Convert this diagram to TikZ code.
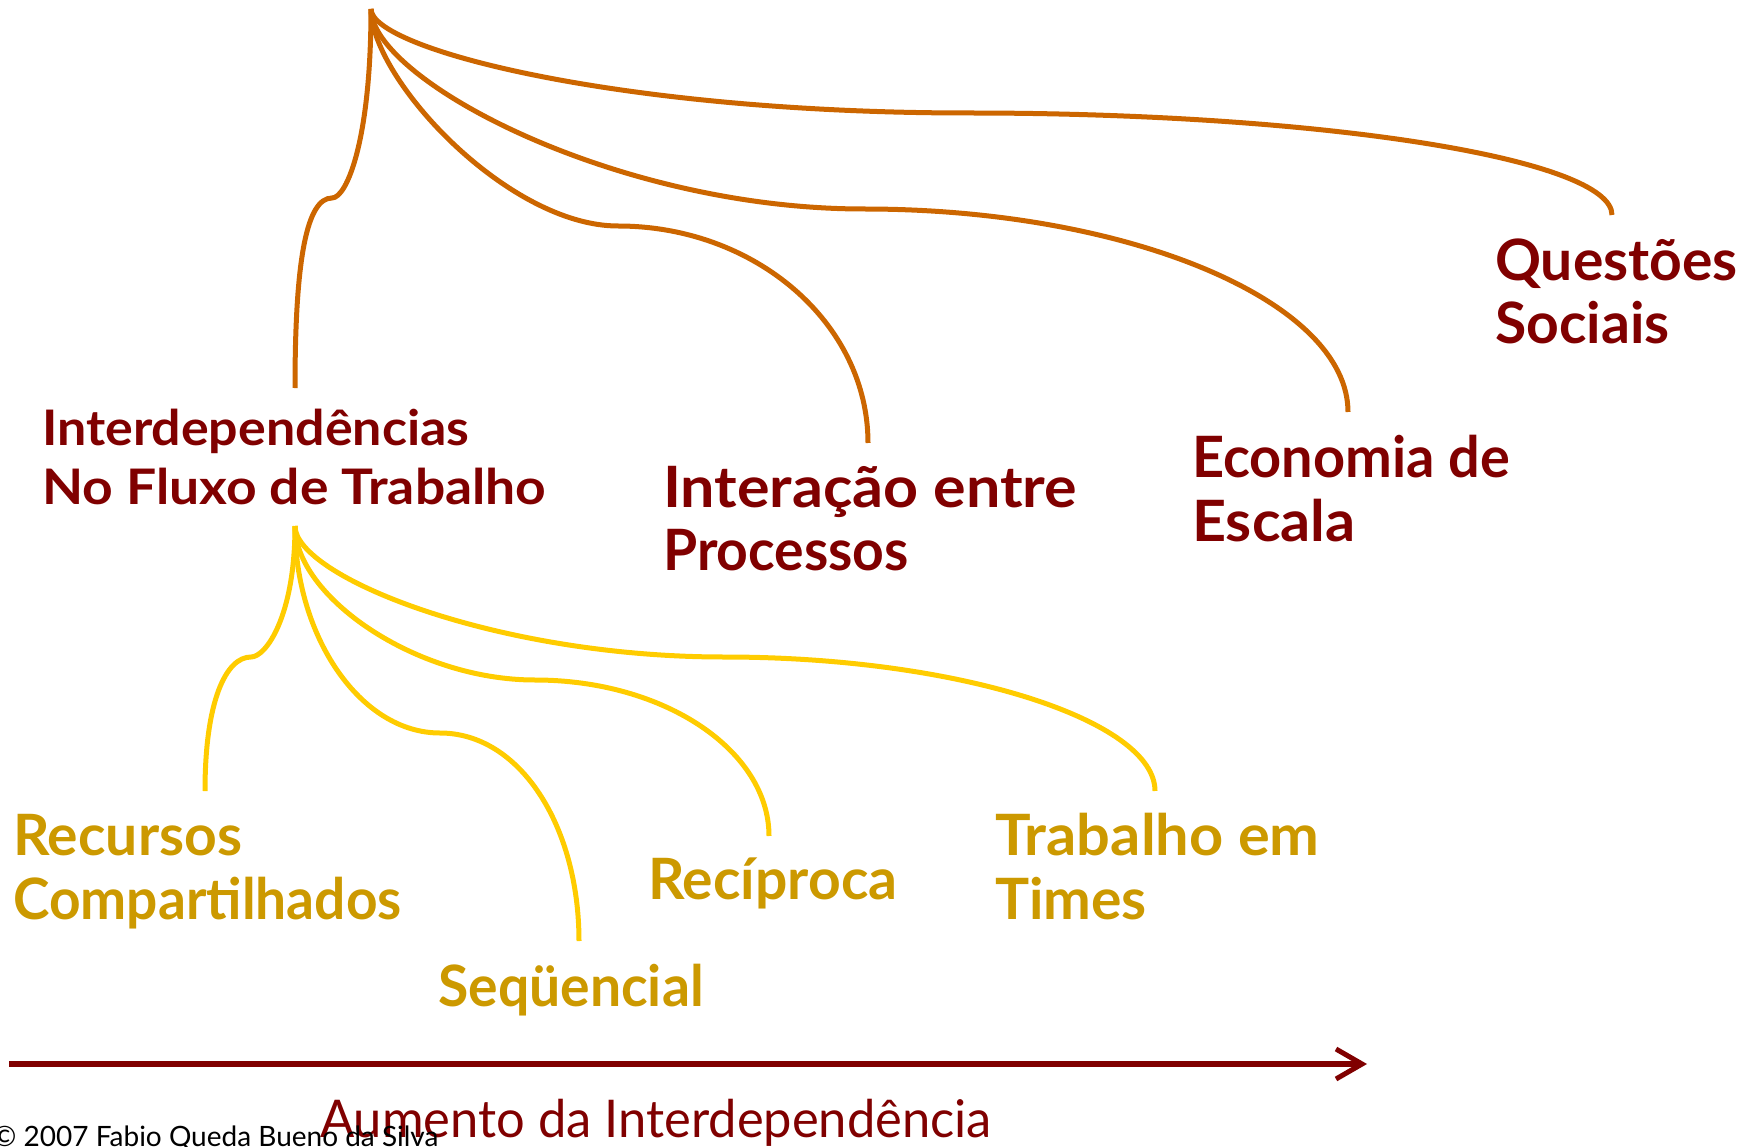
\documentclass[tikz,border=0pt]{standalone}
\usepackage{fontspec}
\setmainfont{Lato}
\usetikzlibrary{arrows.meta}
\definecolor{brorange}{HTML}{CC6600}
\definecolor{dkred}{HTML}{800000}
\definecolor{brgold}{HTML}{FFCC00}
\definecolor{txgold}{HTML}{CC9900}
\newcommand{\hs}[2]{\scalebox{#1}[1]{#2}}
\begin{document}
\begin{tikzpicture}[x=1pt,y=-1pt,
  obr/.style={draw=brorange, line width=5pt},
  ybr/.style={draw=brgold, line width=5pt},
  redlbl/.style={text=dkred, font=\bfseries\fontsize{57}{64}\selectfont, inner sep=0pt, anchor=base west},
  redsmall/.style={text=dkred, font=\bfseries\fontsize{49}{58}\selectfont, inner sep=0pt, anchor=base west},
  goldlbl/.style={text=txgold, font=\bfseries\fontsize{57}{64}\selectfont, inner sep=0pt, anchor=base west},
  axislbl/.style={text=dkred, font=\fontsize{52}{60}\selectfont, inner sep=0pt, anchor=base west},
  copylbl/.style={text=black, font=\fontsize{28}{32}\selectfont, inner sep=0pt, anchor=base west},
  axisarrow/.style={draw=dkred, line width=6pt, -{Straight Barb[length=26pt,width=30pt,line width=5pt]}}]
\useasboundingbox (0,0) rectangle (1747,1147);
% labels
\node[redsmall] (intA) at (42,445) {\hs{1.06}{Interdependências}};
\node[redsmall] (intB) at (42,504) {\hs{1.09}{No Fluxo de Trabalho}};
\node[redlbl] (procA) at (663,507) {\hs{1.07}{Interação entre}};
\node[redlbl] (procB) at (663,570) {\hs{0.97}{Processos}};
\node[redlbl] (ecoA) at (1192,477) {\hs{0.98}{Economia de}};
\node[redlbl] (ecoB) at (1192,541) {\hs{1.04}{Escala}};
\node[redlbl] (socA) at (1495,281) {Questões};
\node[redlbl] (socB) at (1495,343) {Sociais};
\node[goldlbl] (recA) at (13,855) {Recursos};
\node[goldlbl] (recB) at (13,919) {\hs{0.966}{Compartilhados}};
\node[goldlbl] (seq) at (438,1006) {\hs{0.97}{Seqüencial}};
\node[goldlbl] (reci) at (648,899) {Recíproca};
\node[goldlbl] (timA) at (995,855) {\hs{1.044}{Trabalho em}};
\node[goldlbl] (timB) at (995,919) {Times};
\node[axislbl] (aum) at (320,1137) {\hs{0.974}{Aumento da Interdependência}};
\node[copylbl] (copy) at (-7,1146) {© 2007 Fabio Queda Bueno da Silva};
% connector points
\coordinate (oroot) at (371,9);
\coordinate (o1k) at (332,198); \coordinate (o1e) at (295,388);
\coordinate (o2k) at (618,226); \coordinate (o2e) at (868,443);
\coordinate (o3k) at (864,209); \coordinate (o3e) at (1348,412);
\coordinate (o4k) at (969,113); \coordinate (o4e) at (1612,215);
\coordinate (yroot) at (295,526);
\coordinate (y1k) at (251,657); \coordinate (y1e) at (205,791);
\coordinate (y2k) at (440,733); \coordinate (y2e) at (579,941);
\coordinate (y3k) at (535,680); \coordinate (y3e) at (769,836);
\coordinate (y4k) at (724,657); \coordinate (y4e) at (1155,791);
\coordinate (arS) at (9,1064); \coordinate (arE) at (1367,1064);
% orange branches
\draw[obr] (oroot) .. controls +(0,130) and +(15,0) .. (o1k) .. controls +(-25,0) and +(0,-130) .. (o1e);
\draw[obr] (oroot) .. controls +(0,70) and +(-110,0) .. (o2k) .. controls +(137,0) and +(0,-120) .. (o2e);
\draw[obr] (oroot) .. controls +(0,70) and +(-250,0) .. (o3k) .. controls +(266,0) and +(0,-110) .. (o3e);
\draw[obr] (oroot) .. controls +(0,40) and +(-350,0) .. (o4k) .. controls +(354,0) and +(0,-56) .. (o4e);
% yellow branches
\draw[ybr] (yroot) .. controls +(0,90) and +(15,0) .. (y1k) .. controls +(-25,0) and +(0,-90) .. (y1e);
\draw[ybr] (yroot) .. controls +(0,110) and +(-80,0) .. (y2k) .. controls +(80,0) and +(0,-115) .. (y2e);
\draw[ybr] (yroot) .. controls +(0,70) and +(-120,0) .. (y3k) .. controls +(130,0) and +(0,-85) .. (y3e);
\draw[ybr] (yroot) .. controls +(0,50) and +(-230,0) .. (y4k) .. controls +(237,0) and +(0,-70) .. (y4e);
% axis
\draw[axisarrow] (arS) -- (arE);
\end{tikzpicture}
\end{document}
